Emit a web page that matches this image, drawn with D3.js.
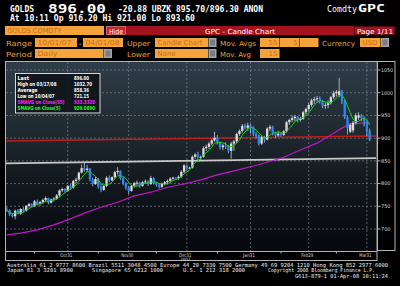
<!DOCTYPE html>
<html><head><meta charset="utf-8">
<script src="https://cdn.jsdelivr.net/npm/d3@7"></script>
<style>
html,body{margin:0;padding:0;background:#000;overflow:hidden;}
svg{display:block;}
</style></head><body>
<svg id="c" width="400" height="286"></svg>
<script>
// ---------- DATA ----------
const dates = [
 "2007-10-01","2007-10-02","2007-10-03","2007-10-04","2007-10-05","2007-10-08","2007-10-09","2007-10-10","2007-10-11","2007-10-12",
 "2007-10-15","2007-10-16","2007-10-17","2007-10-18","2007-10-19","2007-10-22","2007-10-23","2007-10-24","2007-10-25","2007-10-26",
 "2007-10-29","2007-10-30","2007-10-31",
 "2007-11-01","2007-11-02","2007-11-05","2007-11-06","2007-11-07","2007-11-08","2007-11-09","2007-11-12","2007-11-13","2007-11-14",
 "2007-11-15","2007-11-16","2007-11-19","2007-11-20","2007-11-21","2007-11-22","2007-11-23","2007-11-26","2007-11-27","2007-11-28",
 "2007-11-29","2007-11-30",
 "2007-12-03","2007-12-04","2007-12-05","2007-12-06","2007-12-07","2007-12-10","2007-12-11","2007-12-12","2007-12-13","2007-12-14",
 "2007-12-17","2007-12-18","2007-12-19","2007-12-20","2007-12-21","2007-12-24","2007-12-25","2007-12-26","2007-12-27","2007-12-28",
 "2007-12-31",
 "2008-01-01","2008-01-02","2008-01-03","2008-01-04","2008-01-07","2008-01-08","2008-01-09","2008-01-10","2008-01-11","2008-01-14",
 "2008-01-15","2008-01-16","2008-01-17","2008-01-18","2008-01-21","2008-01-22","2008-01-23","2008-01-24","2008-01-25","2008-01-28",
 "2008-01-29","2008-01-30","2008-01-31",
 "2008-02-01","2008-02-04","2008-02-05","2008-02-06","2008-02-07","2008-02-08","2008-02-11","2008-02-12","2008-02-13","2008-02-14",
 "2008-02-15","2008-02-18","2008-02-19","2008-02-20","2008-02-21","2008-02-22","2008-02-25","2008-02-26","2008-02-27","2008-02-28",
 "2008-02-29",
 "2008-03-03","2008-03-04","2008-03-05","2008-03-06","2008-03-07","2008-03-10","2008-03-11","2008-03-12","2008-03-13","2008-03-14",
 "2008-03-17","2008-03-18","2008-03-19","2008-03-20","2008-03-21","2008-03-24","2008-03-25","2008-03-26","2008-03-27","2008-03-28",
 "2008-03-31",
 "2008-04-01"
];
const opens = [
 743,741,732,728,741,734,744,740,751,755, 750,761,755,759,764,768,758,765,767,774, 785,788,784,
 795,791,806,809,824,834,830,833,809,799, 810,793,786,795,813,807,814,825,828,812, 800,791,
 784,795,801,802,795,803,805,799,812,801, 797,793,799,803,806,811,813,812,815,826, 840,
 834,835,859,864,858,859,878,881,888,895, 901,889,880,884,882,872,888,893,909,916, 927,923,928,
 924,909,905,888,902,897,921,925,911,906, 910,907,915,935,940,944,947,940,943,957, 964,
 973,983,986,988,981,971,973,977,990,999, 995,1003,980,946,914,917,934,945,950,945, 937,
 916.2
];
const highs = [
 748,743,735,743,744,746,748,753,758,757, 764,765,762,767,772,769,767,770,777,787, 791,790,797,
 799,808,813,826,842,847,841,834,813,815, 812,799,797,816,818,816,828,836,829,814, 803,794,
 797,804,807,804,806,809,807,817,814,804, 800,802,806,809,814,815,814,818,829,843, 842,
 837,862,867,870,862,882,886,892,898,914, 907,893,888,891,885,892,896,912,919,931, 932,934,931,
 926,913,908,906,905,924,929,927,914,915, 913,918,938,943,950,951,949,947,960,967, 977,
 987,991,993,992,984,978,983,993,1004,1006, 1032.7,1006,984,948,933,938,955,957,953,948, 939,
 921
];
const lows = [
 738,729,725,721.15,732,731,737,738,747,748, 749,752,751,755,759,754,756,760,764,771, 781,780,782,
 786,789,801,807,822,826,826,805,794,797, 789,781,784,792,803,805,811,820,808,796, 786,777,
 782,791,795,791,793,799,795,797,798,793, 789,790,796,798,803,808,811,808,812,823, 829,
 832,833,855,852,850,857,872,876,884,892, 886,875,873,876,867,855,872,889,905,912, 919,916,910,
 904,899,884,885,890,895,915,906,901,903, 903,905,912,929,935,937,935,936,940,952, 960,
 969,975,978,976,966,964,966,974,986,992, 990,975,942,908,911,912,930,940,937,926, 904,
 893.6
];
const closes = [
 741,732,728,740,734,744,740,751,755,750, 761,755,759,764,768,758,765,767,774,785, 788,784,795,
 791,806,809,824,834,830,833,809,799,810, 793,786,795,813,807,814,825,828,812,800, 791,784,
 795,801,802,795,803,805,799,812,801,797, 793,799,803,806,811,813,812,815,826,840, 834,
 835,859,864,858,859,878,881,888,895,901, 889,880,884,882,872,888,893,909,916,927, 923,928,924,
 909,905,888,902,897,921,925,911,906,910, 907,915,935,940,944,947,940,943,957,964, 973,
 983,986,988,981,971,973,977,990,999,1002, 1003,980,946,922,929,934,950,950,945,937.57, 916.88,
 896
];
// 55-day moving average (trading-day index -> value)
const sma55Index  = [0,5,11,17,22,28,34,40,46,52,58,64,70,76,82,88,94,100,106,112,118,121,124,128,131];
const sma55Values = [687,691,698,709,720,735,748,759,773,781,792,799,808,819,828,837,847,858,874,889,911,922,931,933,934];
// Trend lines (start / end values)
const redLine  = [893.6, 904.6];
const greyLine = [844.5, 856.2];
// Axis ticks
const yTicks = [700,750,800,850,900,950,1000,1050];
const monthEnds   = ["2007-10-31","2007-11-30","2007-12-31","2008-01-31","2008-02-29","2008-03-31"];
const monthLabels = ["Oct31","Nov30","Dec31","Jan31","Feb29","Mar31"];
const midMonths   = ["2007-10-15","2007-11-15","2007-12-14","2008-01-15","2008-02-15","2008-03-14"];
// Legend
const legendLabels = ["Last","High on 03/17/08","Average","Low on 10/04/07","SMAVG on Close(55)","SMAVG on Close(5)"];
const legendValues = ["896.00","1032.70","858.36","721.15","933.3320","929.0890"];

// ---------- DRAW ----------
const svg = d3.select("#c");
const W = 400, H = 286;
svg.append("rect").attr("width",W).attr("height",H).attr("fill","#000");

const mono = "'DejaVu Sans Mono', 'Liberation Mono', monospace";
const cond = "'DejaVu Sans Condensed', 'Liberation Sans Narrow', 'DejaVu Sans', sans-serif";

function txt(s, x, yy, o = {}) {
  const t = svg.append("text").attr("x", x).attr("y", yy).text(s)
    .attr("font-family", o.ff || mono)
    .attr("font-size", o.fs || 8)
    .attr("font-weight", o.fw || "normal")
    .attr("fill", o.fill || "#fff")
    .attr("text-anchor", o.anchor || "start");
  if (o.tl) t.attr("textLength", o.tl).attr("lengthAdjust", "spacingAndGlyphs");
  return t;
}

// Header
txt("GOLDS", 10, 11.5, {fw:"bold", fs:8, tl:24});
txt("896.00", 48, 12.5, {fw:"bold", fs:11.5, tl:58});
txt("-20.88 UBZK 895.70/896.30 ANON", 118, 11.5, {fw:"bold", fs:8, tl:145});
txt("Comdty", 327, 11.5, {fs:8, tl:30});
txt("GPC", 358, 12, {fw:"bold", fs:10, tl:27});
txt("At 10:11  Op 916.20 Hi 921.00 Lo 893.60", 10, 21, {fw:"bold", fs:8, tl:185});

// Control rows
const orange = "#f4a43a", orangeTxt = "#c86e14", labelOr = "#f0a030";
function box(x, yy, w, h, s, o = {}) {
  svg.append("rect").attr("x",x).attr("y",yy).attr("width",w).attr("height",h)
    .attr("fill", o.fill || orange);
  if (s) txt(s, o.right ? x + w - 2 : x + 2.5, yy + h - 2, {fs:7, ff:cond, fill:o.tf || orangeTxt,
      anchor: o.right ? "end" : "start", tl:o.tl});
}
function greyBtn(x, yy) {
  svg.append("rect").attr("x",x).attr("y",yy).attr("width",8).attr("height",9).attr("fill","#a4a4a4");
  svg.append("rect").attr("x",x+1.5).attr("y",yy+1.5).attr("width",5).attr("height",6).attr("fill","#7c7c7c");
}
box(5, 26, 99, 9, "GOLDS COMDTY", {tl:54});
svg.append("rect").attr("x",126).attr("y",26).attr("width",269).attr("height",9).attr("fill","#a3121d");
svg.append("rect").attr("x",106.5).attr("y",26.5).attr("width",19).attr("height",8).attr("fill","#cc2230").attr("stroke","#e07a80").attr("stroke-width",0.8);
txt("Hide", 109, 33.5, {fs:7, ff:cond, tl:14});
txt("GPC - Candle Chart", 205, 33.5, {fs:7, ff:cond, tl:70});
svg.append("rect").attr("x",354.5).attr("y",26.5).attr("width",40).attr("height",8).attr("fill","none").attr("stroke","#5a0810").attr("stroke-width",1);
txt("Page 1/11", 357, 33.5, {fs:7, ff:cond, tl:36});

txt("Range", 6, 45.5, {fs:7, ff:cond, fill:labelOr, tl:26});
box(35, 38, 42, 9, "10/01/07", {tl:34});
txt("-", 79, 45.5, {fs:7, ff:cond, fill:"#fff"});
box(83, 38, 40, 9, "04/01/08", {tl:34});
txt("Upper", 127, 45.5, {fs:7, ff:cond, fill:labelOr, tl:23});
box(155, 38, 53, 9, "Candle Chart", {tl:45});
greyBtn(208.5, 38);
txt("Mov. Avgs", 220, 45.5, {fs:7, ff:cond, fill:labelOr, tl:36});
box(260, 38, 19.5, 9, "55", {right:true, tl:9});
box(280, 38, 19.5, 9, "5", {right:true});
box(300, 38, 18.5, 9, "");
txt("Currency", 322, 45.5, {fs:7, ff:cond, fill:labelOr, tl:33});
box(360, 38, 20.5, 9, "USD", {tl:15});
greyBtn(381, 38);

txt("Period", 6, 56.5, {fs:7, ff:cond, fill:labelOr, tl:26});
box(35, 49, 68.5, 9, "Daily", {tl:20});
greyBtn(104, 49);
txt("Lower", 127, 56.5, {fs:7, ff:cond, fill:labelOr, tl:23});
box(155, 49, 53, 9, "None", {tl:18});
greyBtn(208.5, 49);
txt("Mov. Avg", 220, 56.5, {fs:7, ff:cond, fill:labelOr, tl:31});
box(260, 49, 19.5, 9, "15", {right:true, tl:9});

// Chart geometry
const PL = 6, PR = 376, PT = 62, PB = 251;
const x = d3.scaleLinear().domain([-0.3, 133.3]).range([PL, PR]);
const y = d3.scaleLinear().domain([651.6, 1067.6]).range([PB, PT]);
const idxOf = d => dates.indexOf(d);

// background gradient
const defs = svg.append("defs");
const gr = defs.append("linearGradient").attr("id","bg").attr("x1",0).attr("y1",0).attr("x2",0).attr("y2",1);
[[0,"#2f3d49"],[0.3,"#222d35"],[0.55,"#161e23"],[0.75,"#0e1219"],[1,"#08080f"]]
  .forEach(([o,c]) => gr.append("stop").attr("offset",o).attr("stop-color",c));
defs.append("clipPath").attr("id","clip").append("rect")
  .attr("x",PL).attr("y",PT).attr("width",PR-PL).attr("height",PB-PT);
svg.append("rect").attr("x",PL).attr("y",PT).attr("width",PR-PL).attr("height",PB-PT).attr("fill","url(#bg)");

// grid
const grid = svg.append("g").attr("stroke","#8c9298").attr("stroke-width",0.8)
  .attr("stroke-dasharray","2,2").attr("opacity",0.75);
yTicks.forEach(v => grid.append("line").attr("x1",PL).attr("x2",PR).attr("y1",y(v)).attr("y2",y(v)));
monthEnds.forEach(d => grid.append("line").attr("x1",x(idxOf(d))).attr("x2",x(idxOf(d))).attr("y1",PT).attr("y2",PB));

const plot = svg.append("g").attr("clip-path","url(#clip)");
const [d0, d1] = x.domain();
// trend lines
plot.append("line").attr("x1",x(d0)).attr("x2",x(d1)).attr("y1",y(greyLine[0])).attr("y2",y(greyLine[1]))
  .attr("stroke","#c9c9c9").attr("stroke-width",1.8);
plot.append("line").attr("x1",x(d0)).attr("x2",x(d1)).attr("y1",y(redLine[0])).attr("y2",y(redLine[1]))
  .attr("stroke","#c01c1c").attr("stroke-width",1.6);

// 55-day SMA
const sma55 = sma55Index.map((i,k) => [i, sma55Values[k]]);
plot.append("path").datum(sma55).attr("fill","none").attr("stroke","#c414c8").attr("stroke-width",1.2)
  .attr("d", d3.line().x(d => x(d[0])).y(d => y(d[1])));

// candles
const cg = plot.append("g");
closes.forEach((c, i) => {
  const o = opens[i], up = c >= o, cx = x(i);
  cg.append("line").attr("x1",cx).attr("x2",cx).attr("y1",y(highs[i])).attr("y2",y(lows[i]))
    .attr("stroke", up ? "#cfcfcf" : "#9ec8ff").attr("stroke-width",0.8);
  const top = y(Math.max(o,c)), h = Math.max(1, Math.abs(y(o) - y(c)));
  cg.append("rect").attr("x",cx-1.15).attr("y",top).attr("width",2.3).attr("height",h)
    .attr("fill", up ? "#dcdcdc" : "#2288ff");
});

// 5-day SMA (from closes)
const sma5 = closes.map((c,i) => [i, d3.mean(closes.slice(Math.max(0,i-4), i+1))]);
plot.append("path").datum(sma5).attr("fill","none").attr("stroke","#18d020").attr("stroke-width",1)
  .attr("d", d3.line().x(d => x(d[0])).y(d => y(d[1])));

// frames
const fr = svg.append("g").attr("fill","none").attr("stroke","#b4b4b4").attr("stroke-width",1);
fr.append("rect").attr("x",5.5).attr("y",61.5).attr("width",371.5).attr("height",199);
fr.append("rect").attr("x",377.5).attr("y",61.5).attr("width",17.5).attr("height",189);
fr.append("line").attr("x1",5.5).attr("x2",377).attr("y1",251.5).attr("y2",251.5);

// right axis
yTicks.forEach(v => {
  svg.append("line").attr("x1",377.5).attr("x2",380.5).attr("y1",y(v)).attr("y2",y(v)).attr("stroke","#b4b4b4");
  txt(String(v), 381, y(v) + 1.8, {fs:5.2, ff:cond, fill:"#d8d8d8", tl: v >= 1000 ? 12 : 9.5});
});
// bottom axis
midMonths.forEach(d => svg.append("line").attr("x1",x(idxOf(d))).attr("x2",x(idxOf(d)))
  .attr("y1",251.5).attr("y2",253.5).attr("stroke","#b4b4b4"));
monthEnds.forEach((d,k) => txt(monthLabels[k], x(idxOf(d)) - 1.5, 256.8, {fs:5, ff:cond, fill:"#d8d8d8", anchor:"middle", tl:12}));
txt("2007", x(idxOf("2007-12-31")) - 1.5, 260.6, {fs:4.5, ff:cond, fill:"#d8d8d8", anchor:"middle", tl:10});

// legend
svg.append("rect").attr("x",15.5).attr("y",73.5).attr("width",84.5).attr("height",39.5)
  .attr("fill","#10151b").attr("fill-opacity",0.92).attr("stroke","#d8d8d8").attr("stroke-width",1);
const lgCol = ["#fff","#fff","#fff","#fff","#ff20ff","#20ff20"];
const lgTL  = [11.5,39,20,37,47,43];
const lgVTL = [15,18,15,15,21,21];
legendLabels.forEach((s,k) => {
  const yy = 79.6 + k * 6;
  txt(s, 17.5, yy, {fs:5.5, ff:cond, fw:"bold", fill:lgCol[k], tl:lgTL[k]});
  txt(legendValues[k], 74, yy, {fs:5.5, ff:cond, fw:"bold", fill:lgCol[k], tl:lgVTL[k]});
});

// footer
const ft = {fs:5.4, ff:mono, fill:"#ececec"};
txt("Australia 61 2 9777 8600 Brazil 5511 3048 4500 Europe 44 20 7330 7500 Germany 49 69 9204 1210 Hong Kong 852 2977 6000", 7, 266.5, {...ft, tl:381});
txt("Japan 81 3 3201 8900", 7, 272, {...ft, tl:66});
txt("Singapore 65 6212 1000", 92, 272, {...ft, tl:71});
txt("U.S. 1 212 318 2000", 183, 272, {...ft, tl:62});
txt("Copyright 2008 Bloomberg Finance L.P.", 268, 272, {...ft, tl:107});
txt("G613-879-1 01-Apr-08 10:11:24", 295, 277.5, {...ft, tl:93});
</script>
</body></html>
